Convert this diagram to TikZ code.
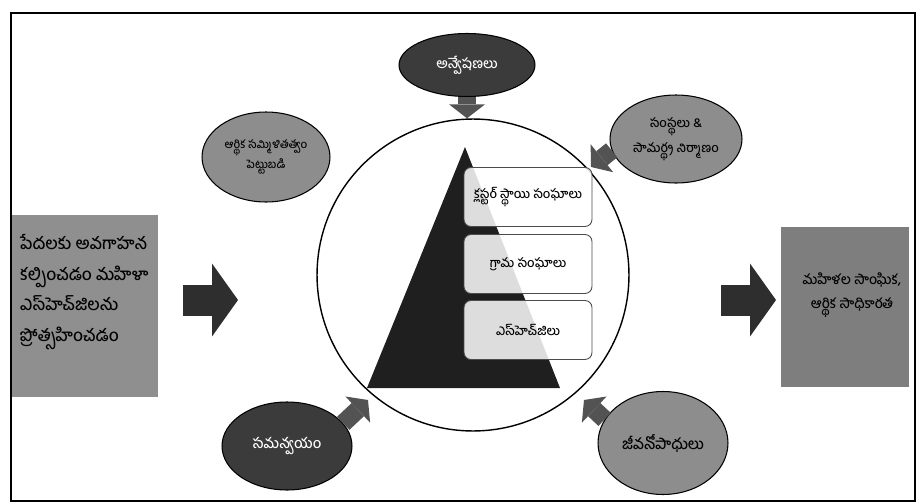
\documentclass[tikz,border=0pt]{standalone}
\usepackage{fontspec}
\newfontfamily\tel[Script=Telugu]{Hind Guntur Medium}
\usetikzlibrary{shapes.geometric,arrows.meta}
\definecolor{darkoval}{HTML}{3B3B3B}
\definecolor{greyoval}{HTML}{8D8D8D}
\definecolor{sidegrey}{HTML}{8F8F8F}
\definecolor{goalgrey}{HTML}{7E7E7E}
\definecolor{arrowgrey}{HTML}{535353}
\begin{document}
\begin{tikzpicture}[x=0.02cm,y=-0.02cm,
	oval/.style={ellipse,draw=black,line width=0.6pt,inner sep=0pt,align=center,font=\tel},
	darkblob/.style={oval,fill=darkoval,text=white},
	greyblob/.style={oval,fill=greyoval,text=black},
	level/.style={draw=black!70,line width=0.5pt,rounded corners=4pt,fill=white,fill opacity=0.85,text opacity=1,
		minimum width=2.56cm,minimum height=1.18cm,font=\tel\fontsize{7.2}{9}\selectfont},
	bigarrow/.style={line width=6.2mm,draw=black!82,-{Triangle[width=14.6mm,length=5.2mm,line width=0pt]}},
	smallarrow/.style={line width=3.6mm,draw=arrowgrey,-{Triangle[width=7.2mm,length=2.8mm,line width=0pt]}}]
	\useasboundingbox (0,0) rectangle (917,504);
	\draw[line width=1.1pt] (11,13) rectangle (915,501);
	% side boxes
	\node[fill=sidegrey,minimum width=2.92cm,minimum height=3.64cm,inner sep=0pt] (need) at (85,306) {};
	\node[anchor=west,align=left,font=\tel\fontsize{9.6}{17.5}\selectfont] (needtext) at (14,292)
		{పేదలకు అవగాహన\\ కల్పించడం మహిళా\\ ఎస్‌హెచ్‌జిలను\\ ప్రోత్సహించడం};
	\node[fill=goalgrey,minimum width=2.56cm,minimum height=3.22cm,inner sep=0pt] (goal) at (845,307) {};
	\node[align=center,font=\tel\fontsize{7.8}{13.2}\selectfont] (goaltext) at (852,295)
		{మహిళల సాంఘిక,\\ ఆర్థిక సాధికారత};
	\coordinate (la) at (183,300); \coordinate (lb) at (238,300);
	\coordinate (ra) at (721,300); \coordinate (rb) at (776,300);
	\draw[bigarrow] (la) -- (lb);
	\draw[bigarrow] (ra) -- (rb);
	% circle with pyramid
	\node[circle,draw=black,line width=0.8pt,minimum size=6.24cm,inner sep=0pt] (ring) at (473,275) {};
	\fill[black!88] (465,147) -- (560,388) -- (367,388) -- cycle;
	\node[level] (cluster) at (528,197) {క్లస్టర్ స్థాయి సంఘాలు};
	\node[level] (village) at (528,264) {గ్రామ సంఘాలు};
	\node[level] (shg) at (528,330) {ఎస్‌హెచ్‌జిలు};
	% ovals round the circle
	\node[darkblob,minimum width=2.72cm,minimum height=1.26cm,font=\tel\fontsize{7.8}{10}\selectfont] (search) at (467,65) {అన్వేషణలు};
	\node[greyblob,minimum width=2.64cm,minimum height=1.76cm,font=\tel\fontsize{7.2}{14}\selectfont] (build) at (676,139)
		{సంస్థలు \&\\ సామర్థ్య నిర్మాణం};
	\node[greyblob,minimum width=2.56cm,minimum height=1.8cm,font=\tel\fontsize{6.4}{11.3}\selectfont] (finance) at (266,157)
		{ఆర్థిక సమ్మిళితత్వం\\ పెట్టుబడి};
	\node[darkblob,minimum width=2.6cm,minimum height=1.76cm,font=\tel\fontsize{8.2}{11}\selectfont] (coord) at (287,446) {సమన్వయం};
	\node[greyblob,minimum width=2.6cm,minimum height=2.06cm,font=\tel\fontsize{8.6}{11}\selectfont] (living) at (663,443) {జీవనోపాధులు};
	\coordinate (buildtip) at (591,167);
	\coordinate (coordtip) at (368,400);
	\coordinate (livingtip) at (584,400);
	\draw[smallarrow] (search.south) -- (search.south |- ring.north);
	\draw[smallarrow] (build.190) -- (buildtip);
	\draw[smallarrow] (coord.22) -- (coordtip);
	\draw[smallarrow] (living.158) -- (livingtip);
\end{tikzpicture}
\end{document}
